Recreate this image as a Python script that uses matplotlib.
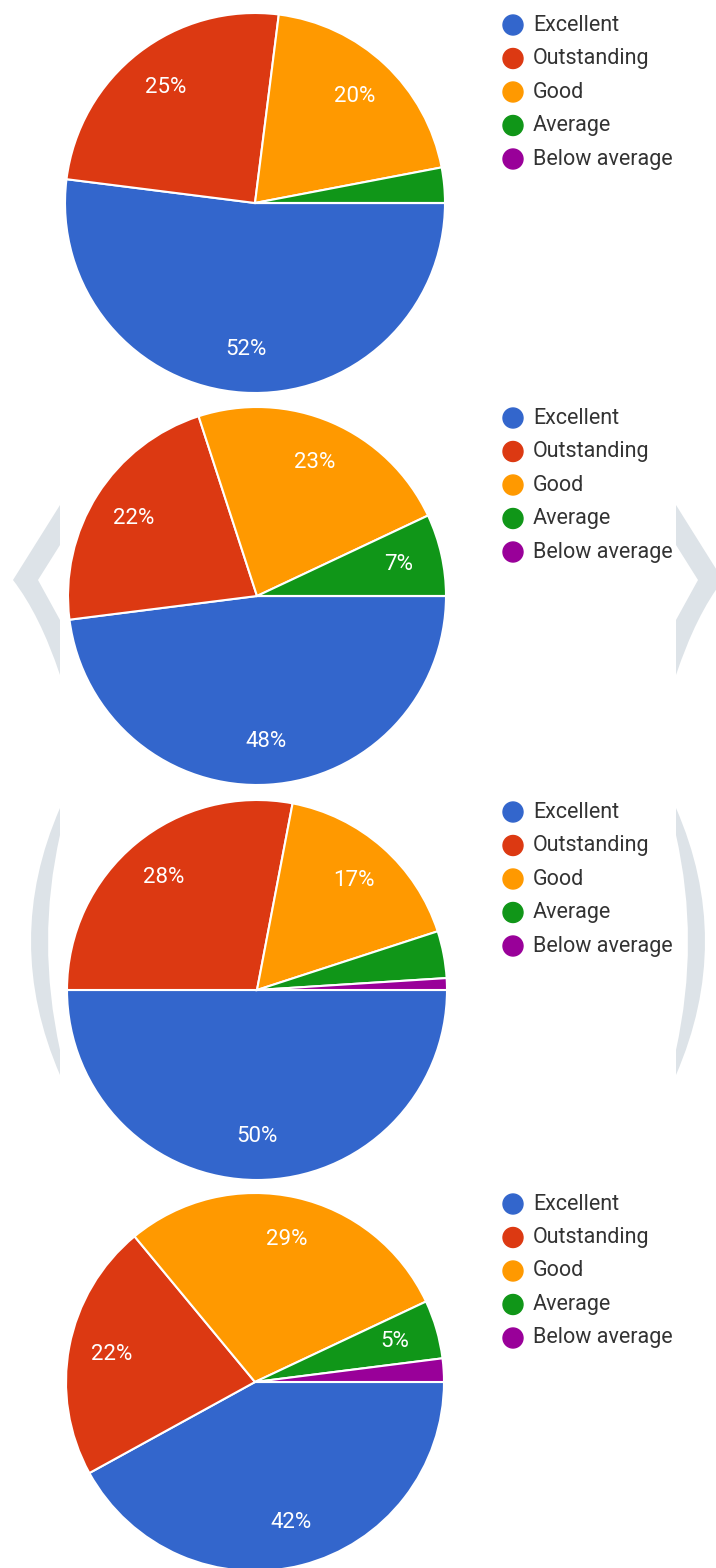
import matplotlib
matplotlib.use('Agg')
import matplotlib.pyplot as plt
from matplotlib.patches import Circle, PathPatch
from matplotlib.path import Path

plt.rcParams['font.family'] = ['Roboto', 'DejaVu Sans']

# data
categories = ['Excellent', 'Outstanding', 'Good', 'Average', 'Below average']
colors = ['#3366cc', '#dc3912', '#ff9900', '#109618', '#990099']

pie1 = [52, 25, 20, 3, 0]
pie2 = [48, 22, 23, 7, 0]
pie3 = [50, 28, 17, 4, 1]
pie4 = [42, 22, 29, 5, 2]
all_pies = [pie1, pie2, pie3, pie4]

# layout in pixels (image coords, y down)
W, H = 716, 1568
centers = [(255, 203), (257, 596), (257, 990), (255, 1382)]
radii = [190, 189, 190, 189]

fig = plt.figure(figsize=(W / 100, H / 100), dpi=100)
ax = fig.add_axes([0, 0, 1, 1])

# faint watermark shapes behind the middle charts
wm = '#dde3e8'


def flip(pts):
    return [(x, H - y) for x, y in pts]


def mirror(pts):
    return [(736 - x, y) for x, y in pts]


chev = [(60, 505), (13, 580), (40, 615), (60, 675), (60, 620), (38, 580), (60, 545), (60, 505)]
chev_codes = [Path.MOVETO, Path.LINETO, Path.CURVE3, Path.CURVE3, Path.LINETO,
              Path.LINETO, Path.LINETO, Path.CLOSEPOLY]
cres = [(60, 808), (2, 941), (60, 1075), (60, 1050), (36, 941), (60, 835), (60, 808)]
cres_codes = [Path.MOVETO, Path.CURVE3, Path.CURVE3, Path.LINETO, Path.CURVE3,
              Path.CURVE3, Path.CLOSEPOLY]

for pts, codes in [(chev, chev_codes), (cres, cres_codes)]:
    for p in (pts, mirror(pts)):
        ax.add_patch(PathPatch(Path(flip(p), codes), facecolor=wm,
                               edgecolor='none', zorder=0))


def pct(p):
    return '%d%%' % round(p) if p >= 5 else ''


for vals, (cx, cy), r in zip(all_pies, centers, radii):
    ax.pie(vals, colors=colors, startangle=0, counterclock=False,
           center=(cx, H - cy), radius=r, autopct=pct, pctdistance=0.77,
           wedgeprops=dict(edgecolor='white', linewidth=1.5),
           textprops=dict(color='white', fontsize=16), frame=True)
    # legend
    for i, (cat, col) in enumerate(zip(categories, colors)):
        y = cy - 178 + i * 33.5
        ax.add_patch(Circle((513, H - y), 10, color=col, zorder=3))
        ax.text(533, H - y, cat, va='center', ha='left', fontsize=15.5,
                color='#333333')

ax.set_xlim(0, W)
ax.set_ylim(0, H)
ax.set_aspect('equal')
ax.axis('off')

fig.savefig('out.png', dpi=100)
